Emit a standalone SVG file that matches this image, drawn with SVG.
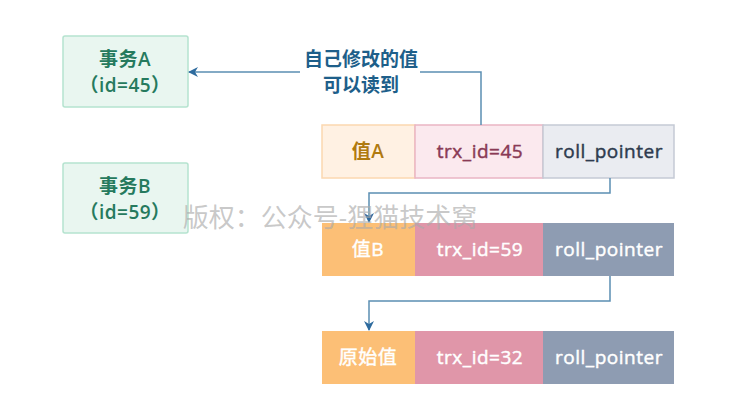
<svg xmlns="http://www.w3.org/2000/svg" width="753" height="403" viewBox="0 0 753 403">
<defs>
<style>
text{font-family:"Open Sans","Noto Sans CJK SC",sans-serif;text-anchor:middle;}
.tx{font-size:19px;font-weight:600;fill:#267a5e;letter-spacing:0.5px;}
.tb{fill:#e9f6f0;stroke:#b5e3cf;stroke-width:1.5;}
.c{font-size:19px;font-weight:normal;letter-spacing:0.5px;stroke-width:0.45px;}
.w{fill:#ffffff;stroke:#ffffff;}
.conn{fill:none;stroke:#5b8fb3;stroke-width:1.5;}
</style>
<marker id="ah" markerWidth="10" markerHeight="10" refX="9" refY="5" orient="auto" markerUnits="userSpaceOnUse">
<path d="M0,0 L10,5 L0,10 L3,5 Z" fill="#2e6b9e"/>
</marker>
</defs>
<rect width="753" height="403" fill="#ffffff"/>
<g id="txA">
<rect class="tb" x="63" y="36" width="125" height="71" rx="2"/>
<text class="tx" x="125" y="66">事务A</text>
<text class="tx" x="125" y="92">（id=45）</text>
</g>
<g id="txB">
<rect class="tb" x="63" y="163" width="125" height="70" rx="2"/>
<text class="tx" x="125" y="193">事务B</text>
<text class="tx" x="125" y="219">（id=59）</text>
</g>
<g id="rowA">
<rect x="322" y="125" width="93" height="53" fill="#fff1e3" stroke="#fcd7b0" stroke-width="1.5"/>
<rect x="415" y="125" width="128" height="53" fill="#fbe9ee" stroke="#eab5c4" stroke-width="1.5"/>
<rect x="543" y="125" width="131" height="53" fill="#eaecf1" stroke="#c5cad5" stroke-width="1.5"/>
<text class="c" x="368" y="158" fill="#b07a10" style="font-weight:600;stroke-width:0">值A</text>
<text class="c" x="480" y="158" fill="#8a3a55" stroke="#8a3a55">trx_id=45</text>
<text class="c" x="609" y="158" fill="#2e3b4e" stroke="#2e3b4e">roll_pointer</text>
</g>
<g id="rowB">
<rect x="322" y="223" width="93" height="53" fill="#fcbf76"/>
<rect x="415" y="223" width="128" height="53" fill="#e096a9"/>
<rect x="543" y="223" width="131" height="53" fill="#8e9cb2"/>
<text class="c w" x="368" y="256">值B</text>
<text class="c w" x="480" y="256">trx_id=59</text>
<text class="c w" x="609" y="256">roll_pointer</text>
</g>
<g id="rowOrig">
<rect x="322" y="331" width="93" height="53" fill="#fcbf76"/>
<rect x="415" y="331" width="128" height="53" fill="#e096a9"/>
<rect x="543" y="331" width="131" height="53" fill="#8e9cb2"/>
<text class="c w" x="368" y="364">原始值</text>
<text class="c w" x="480" y="364">trx_id=32</text>
<text class="c w" x="609" y="364">roll_pointer</text>
</g>
<g id="connectors">
<path class="conn" d="M481,125 V72 H420 M300,72 H189" marker-end="url(#ah)"/>
<path class="conn" d="M610,178 V193 H369 V222" marker-end="url(#ah)"/>
<path class="conn" d="M610,276 V301 H369 V330" marker-end="url(#ah)"/>
<text x="361" y="66" font-size="19" font-weight="bold" fill="#1e5f8a">自己修改的值</text>
<text x="361" y="92" font-size="19" font-weight="bold" fill="#1e5f8a">可以读到</text>
</g>
<text x="330" y="227" font-size="26" fill="#aaaaaa" fill-opacity="0.65" font-family="Noto Sans CJK SC, sans-serif">版权：公众号-狸猫技术窝</text>
</svg>
